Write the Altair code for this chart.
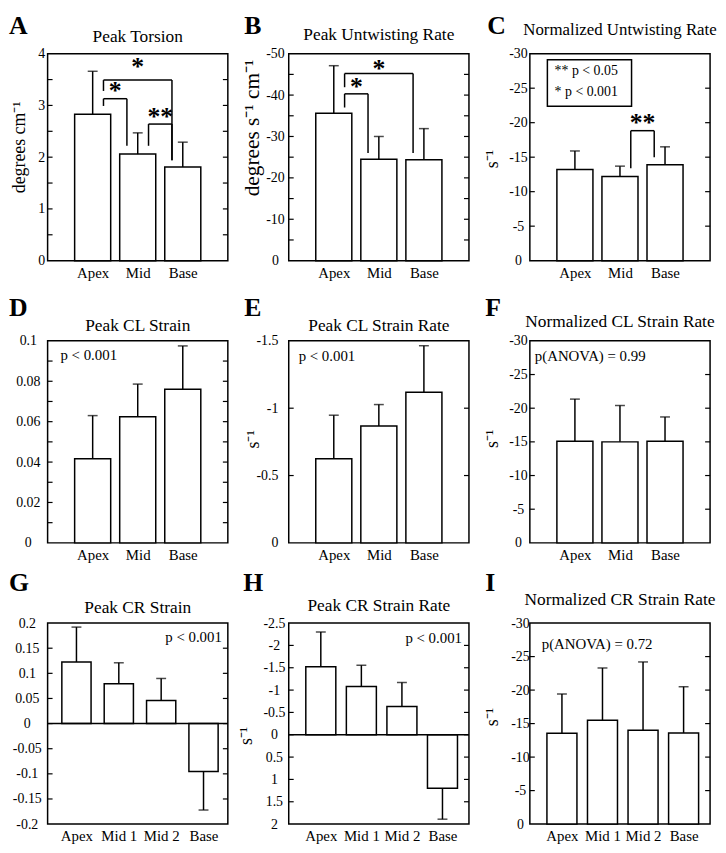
import json
import altair as alt
import pandas as pd

FONT = "Liberation Serif"
W = 182

# ---------------- data ----------------
cats3 = ["Apex", "Mid", "Base"]
cats4 = ["Apex", "Mid 1", "Mid 2", "Base"]

torsion_mean = [2.83, 2.06, 1.81]
torsion_sd_end = [3.66, 2.47, 2.29]
untwist_mean = [-35.6, -24.5, -24.4]
untwist_sd_end = [-47.1, -30.0, -31.9]
norm_untwist_mean = [-13.2, -12.2, -13.9]
norm_untwist_sd_end = [-15.9, -13.7, -16.5]
cl_strain_mean = [0.0416, 0.0624, 0.0761]
cl_strain_sd_end = [0.063, 0.0786, 0.0975]
cl_rate_mean = [-0.624, -0.867, -1.118]
cl_rate_sd_end = [-0.948, -1.027, -1.464]
norm_cl_mean = [-15.1, -15.0, -15.1]
norm_cl_sd_end = [-21.35, -20.4, -18.7]
cr_strain_mean = [0.1226, 0.0793, 0.0459, -0.0951]
cr_strain_sd_end = [0.192, 0.121, 0.0898, -0.172]
cr_rate_mean = [-1.52, -1.08, -0.634, 1.20]
cr_rate_sd_end = [-2.30, -1.556, -1.17, 1.89]
norm_cr_mean = [-13.55, -15.5, -14.0, -13.6]
norm_cr_sd_end = [-19.4, -23.3, -24.2, -20.5]

# significance brackets: (left, right, bracket level, left leg end, right leg end, stars, star centre)
brackets_A = [("Apex", "Mid", 3.13, 2.99, 2.22, "*", 3.36),
              ("Apex", "Base", 3.49, 3.28, 1.94, "*", 3.81),
              ("Mid", "Base", 2.64, 2.22, 1.94, "**", 2.85)]
brackets_B = [("Apex", "Mid", -40.3, -37.0, -26.0, "*", -42.9),
              ("Apex", "Base", -45.2, -41.9, -26.0, "*", -47.2)]
brackets_C = [("Mid", "Base", -18.84, -13.4, -15.0, "**", -20.5)]

# y tick labels and inner tick marks
labels_A = [0, 1, 2, 3, 4]
ticks_A = [0.5, 1, 1.5, 2, 2.5, 3, 3.5]
labels_B = [0, -10, -20, -30, -40, -50]
ticks_B = [-5, -10, -15, -20, -25, -30, -35, -40, -45]
labels_30 = [0, -5, -10, -15, -20, -25, -30]
ticks_30 = [-5, -10, -15, -20, -25]
labels_D = [0, 0.02, 0.04, 0.06, 0.08, 0.1]
ticks_D = [0.01, 0.02, 0.03, 0.04, 0.05, 0.06, 0.07, 0.08, 0.09]
labels_E = [0, -0.5, -1, -1.5]
ticks_E = [-0.5, -1]
labels_G = [-0.2, -0.15, -0.1, -0.05, 0, 0.05, 0.1, 0.15, 0.2]
ticks_G = [-0.15, -0.1, -0.05, 0, 0.05, 0.1, 0.15]
labels_H = [2, 1.5, 1, 0.5, 0, -0.5, -1, -1.5, -2, -2.5]
ticks_H = [1.5, 1, 0.5, 0, -0.5, -1, -1.5, -2]

SUP = "\u207b\u00b9"

panels_spec = [
    dict(letter="A", lx=-39, ly=-20, title="Peak Torsion", tb=-12, tfs=17.5,
         cats=cats3, mean=torsion_mean, err=torsion_sd_end, h=209,
         ydom=[0, 4], ylabels=labels_A, yticks=ticks_A, ytitle="degrees cm" + SUP,
         lalign="center", lpad=6.5, tx=-28, ty=-10.5, xdom=[0, 4], hw=0.4,
         brackets=brackets_A),
    dict(letter="B", lx=-45, ly=-20, title="Peak Untwisting Rate", tb=-14, tfs=17.5,
         cats=cats3, mean=untwist_mean, err=untwist_sd_end, h=209,
         ydom=[0, -50], ylabels=labels_B, yticks=ticks_B,
         ytitle="degrees s" + SUP + " cm" + SUP, ytfs=21.5,
         lalign="center", lpad=14, tx=-37, ty=-30, xdom=[0, 4], hw=0.4,
         brackets=brackets_B),
    dict(letter="C", lx=-43, ly=-20, title="Normalized Untwisting Rate", tb=-18.7, tfs=17,
         cats=cats3, mean=norm_untwist_mean, err=norm_untwist_sd_end, h=209,
         ydom=[0, -30], ylabels=labels_30, yticks=ticks_30, ytitle="s" + SUP,
         lalign="center", lpad=12, tx=-38, ty=1.5, xdom=[0, 4], hw=0.4,
         brackets=brackets_C, legend=True),
    dict(letter="D", lx=-39, ly=-25, title="Peak CL Strain", tb=-10.3, tfs=17.5,
         cats=cats3, mean=cl_strain_mean, err=cl_strain_sd_end, h=204,
         ydom=[0, 0.1], ylabels=labels_D, yticks=ticks_D, ytitle=None,
         lalign="center", lpad=20, xdom=[0, 4], hw=0.4,
         ptext="p < 0.001", px=13, py=19, palign="left"),
    dict(letter="E", lx=-45, ly=-25, title="Peak CL Strain Rate", tb=-10.3, tfs=17.5,
         cats=cats3, mean=cl_rate_mean, err=cl_rate_sd_end, h=204,
         ydom=[0, -1.5], ylabels=labels_E, yticks=ticks_E, ytitle="s" + SUP,
         lalign="right", lpad=11, tx=-35.5, ty=-3, xdom=[0, 4], hw=0.4,
         ptext="p < 0.001", px=10, py=20, palign="left"),
    dict(letter="F", lx=-45, ly=-25, title="Normalized CL Strain Rate", tb=-14, tfs=17.5,
         cats=cats3, mean=norm_cl_mean, err=norm_cl_sd_end, h=204,
         ydom=[0, -30], ylabels=labels_30, yticks=ticks_30, ytitle="s" + SUP,
         lalign="center", lpad=12, tx=-38, ty=-3.5, xdom=[0, 4], hw=0.4,
         ptext="p(ANOVA) = 0.99", px=5, py=20, palign="left"),
    dict(letter="G", lx=-39, ly=-32, title="Peak CR Strain", tb=-10.3, tfs=17.5,
         cats=cats4, mean=cr_strain_mean, err=cr_strain_sd_end, h=203,
         ydom=[-0.2, 0.2], ylabels=labels_G, yticks=ticks_G, ytitle=None,
         lalign="center", lpad=21, xdom=[0.319, 4.574], hw=0.345, zero=True,
         ptext="p < 0.001", px=W - 6, py=19, palign="right"),
    dict(letter="H", lx=-46, ly=-32, title="Peak CR Strain Rate", tb=-12, tfs=17.5,
         cats=cats4, mean=cr_rate_mean, err=cr_rate_sd_end, h=203,
         ydom=[2, -2.5], ylabels=labels_H, yticks=ticks_H, ytitle="s" + SUP,
         lalign="center", lpad=15, tx=-43, ty=12, xdom=[0.209, 4.653], hw=0.37, zero=True,
         ptext="p < 0.001", px=W - 7, py=20, palign="right"),
    dict(letter="I", lx=-45, ly=-32, title="Normalized CR Strain Rate", tb=-18.7, tfs=17.5,
         cats=cats4, mean=norm_cr_mean, err=norm_cr_sd_end, h=203,
         ydom=[0, -30], ylabels=labels_30, yticks=ticks_30, ytitle="s" + SUP,
         lalign="center", lpad=10, tx=-38, ty=-7, xdom=[0.209, 4.653], hw=0.37,
         ptext="p(ANOVA) = 0.72", px=12, py=26, palign="left"),
]

ONE = alt.Data(values=[{"k": 0}])

AXSTYLE = dict(labelFont=FONT, labelFontSize=14, labelColor="black",
               titleFont=FONT, titleFontSize=18, titleFontWeight="normal",
               titleColor="black", grid=False, labelOverlap=False, labelFlush=False,
               domain=False, ticks=False)


def text_layer(txt, x, y, size, align="left", weight="normal", baseline="alphabetic"):
    return alt.Chart(ONE).mark_text(
        text=txt, font=FONT, fontSize=size, fontWeight=weight, align=align,
        baseline=baseline, color="black"
    ).encode(x=alt.value(x), y=alt.value(y))


def make_panel(p):
    cats = p["cats"]
    n = len(cats)
    H = p["h"]
    df = pd.DataFrame({"cat": cats, "pos": list(range(1, n + 1)),
                       "m": p["mean"], "e": p["err"]})
    df["zero"] = 0.0
    xscale = alt.Scale(domain=p["xdom"], nice=False, zero=False)
    yscale = alt.Scale(domain=p["ydom"], nice=False, zero=False)
    label_js = "[" + ",".join(json.dumps(c) for c in cats) + "][datum.value - 1]"
    xkw = dict(values=list(range(1, n + 1)), title=None, labelExpr=label_js,
               labelPadding=5, labelAlign="center", labelBaseline="top", **AXSTYLE)
    xkw["labelFontSize"] = 15
    ykw = dict(values=p["ylabels"], labelExpr="'' + datum.value",
               labelAlign=p["lalign"], labelPadding=p["lpad"], labelBaseline="middle",
               **AXSTYLE)
    if p["ytitle"]:
        ykw.update(title=p["ytitle"], titleX=p["tx"], titleY=H / 2 + p["ty"],
                   titleAngle=270, titleAlign="center", titleBaseline="middle",
                   titleFontSize=p.get("ytfs", 18))
    else:
        ykw.update(title=None)
    xaxis = alt.Axis(**xkw)
    yaxis = alt.Axis(**ykw)

    def X(f):
        return alt.X(f, scale=xscale, axis=xaxis)

    def Y(f):
        return alt.Y(f, scale=yscale, axis=yaxis)

    hw = p["hw"]
    base = alt.Chart(df).transform_calculate(
        lo=f"datum.pos - {hw}", hi=f"datum.pos + {hw}")
    bars = base.mark_bar(fill="white", stroke="black", strokeWidth=1.5).encode(
        x=X("lo:Q"), x2="hi:Q", y=Y("m:Q"), y2="zero:Q")
    whisk = base.mark_rule(color="black", strokeWidth=1.5).encode(
        x=X("pos:Q"), y=Y("m:Q"), y2="e:Q")
    caps = base.mark_tick(orient="horizontal", size=10, thickness=1.5,
                          color="black").encode(x=X("pos:Q"), y=Y("e:Q"))

    tdf = pd.DataFrame({"t": p["yticks"]})
    lt = alt.Chart(tdf).mark_rule(color="black", strokeWidth=1.2).encode(
        x=alt.value(0), x2=alt.value(5), y=Y("t:Q"))
    rt = alt.Chart(tdf).mark_rule(color="black", strokeWidth=1.2).encode(
        x=alt.value(W - 5), x2=alt.value(W), y=Y("t:Q"))

    layers = [bars, whisk, caps, lt, rt]

    if p.get("zero"):
        layers.append(alt.Chart(alt.Data(values=[{"z": 0}])).mark_rule(
            color="black", strokeWidth=1.5).encode(
            x=alt.value(0), x2=alt.value(W), y=Y("z:Q")))

    if p.get("brackets"):
        rows = []
        for c1, c2, top, lb, rb, star, ys in p["brackets"]:
            x1 = cats.index(c1) + 1 + 0.3 * 2 * hw
            x2 = cats.index(c2) + 1 - 0.3 * 2 * hw
            rows.append(dict(x1=x1, x2=x2, xm=(x1 + x2) / 2, top=top, lb=lb, rb=rb,
                             star=star, ys=ys))
        bdf = pd.DataFrame(rows)
        bc = alt.Chart(bdf)
        layers.append(bc.mark_rule(color="black", strokeWidth=1.5).encode(
            x=X("x1:Q"), x2="x2:Q", y=Y("top:Q")))
        layers.append(bc.mark_rule(color="black", strokeWidth=1.5).encode(
            x=X("x1:Q"), y=Y("lb:Q"), y2="top:Q"))
        layers.append(bc.mark_rule(color="black", strokeWidth=1.5).encode(
            x=X("x2:Q"), y=Y("rb:Q"), y2="top:Q"))
        layers.append(bc.mark_text(font=FONT, fontSize=26, fontWeight="bold",
                                   color="black", dy=12, baseline="alphabetic").encode(
            x=X("xm:Q"), y=Y("ys:Q"), text="star:N"))

    if p.get("legend"):
        layers.append(alt.Chart(ONE).mark_rect(fill="white", stroke="black",
                                               strokeWidth=1.5).encode(
            x=alt.value(17.7), x2=alt.value(102.7), y=alt.value(6), y2=alt.value(53)))
        layers.append(text_layer("** p < 0.05", 25, 22, 14))
        layers.append(text_layer("* p < 0.001", 25, 43, 14))

    if p.get("ptext"):
        layers.append(text_layer(p["ptext"], p["px"], p["py"], 15, align=p["palign"]))

    layers.append(text_layer(p["title"], W / 2, p["tb"], p["tfs"], align="center"))
    layers.append(text_layer(p["letter"], p["lx"], p["ly"], 26, weight="bold"))

    return alt.layer(*layers).properties(width=W, height=H)


panels = [make_panel(p) for p in panels_spec]

chart = alt.concat(
    *panels, columns=3, spacing={"row": 81, "column": 61.5}, bounds="flush",
    padding={"left": 0, "top": 0, "right": 0, "bottom": 0},
).configure(font=FONT).configure_view(
    stroke="black", strokeWidth=1.5
)

chart.save("out.html", embed_options={"renderer": "svg", "actions": False})
